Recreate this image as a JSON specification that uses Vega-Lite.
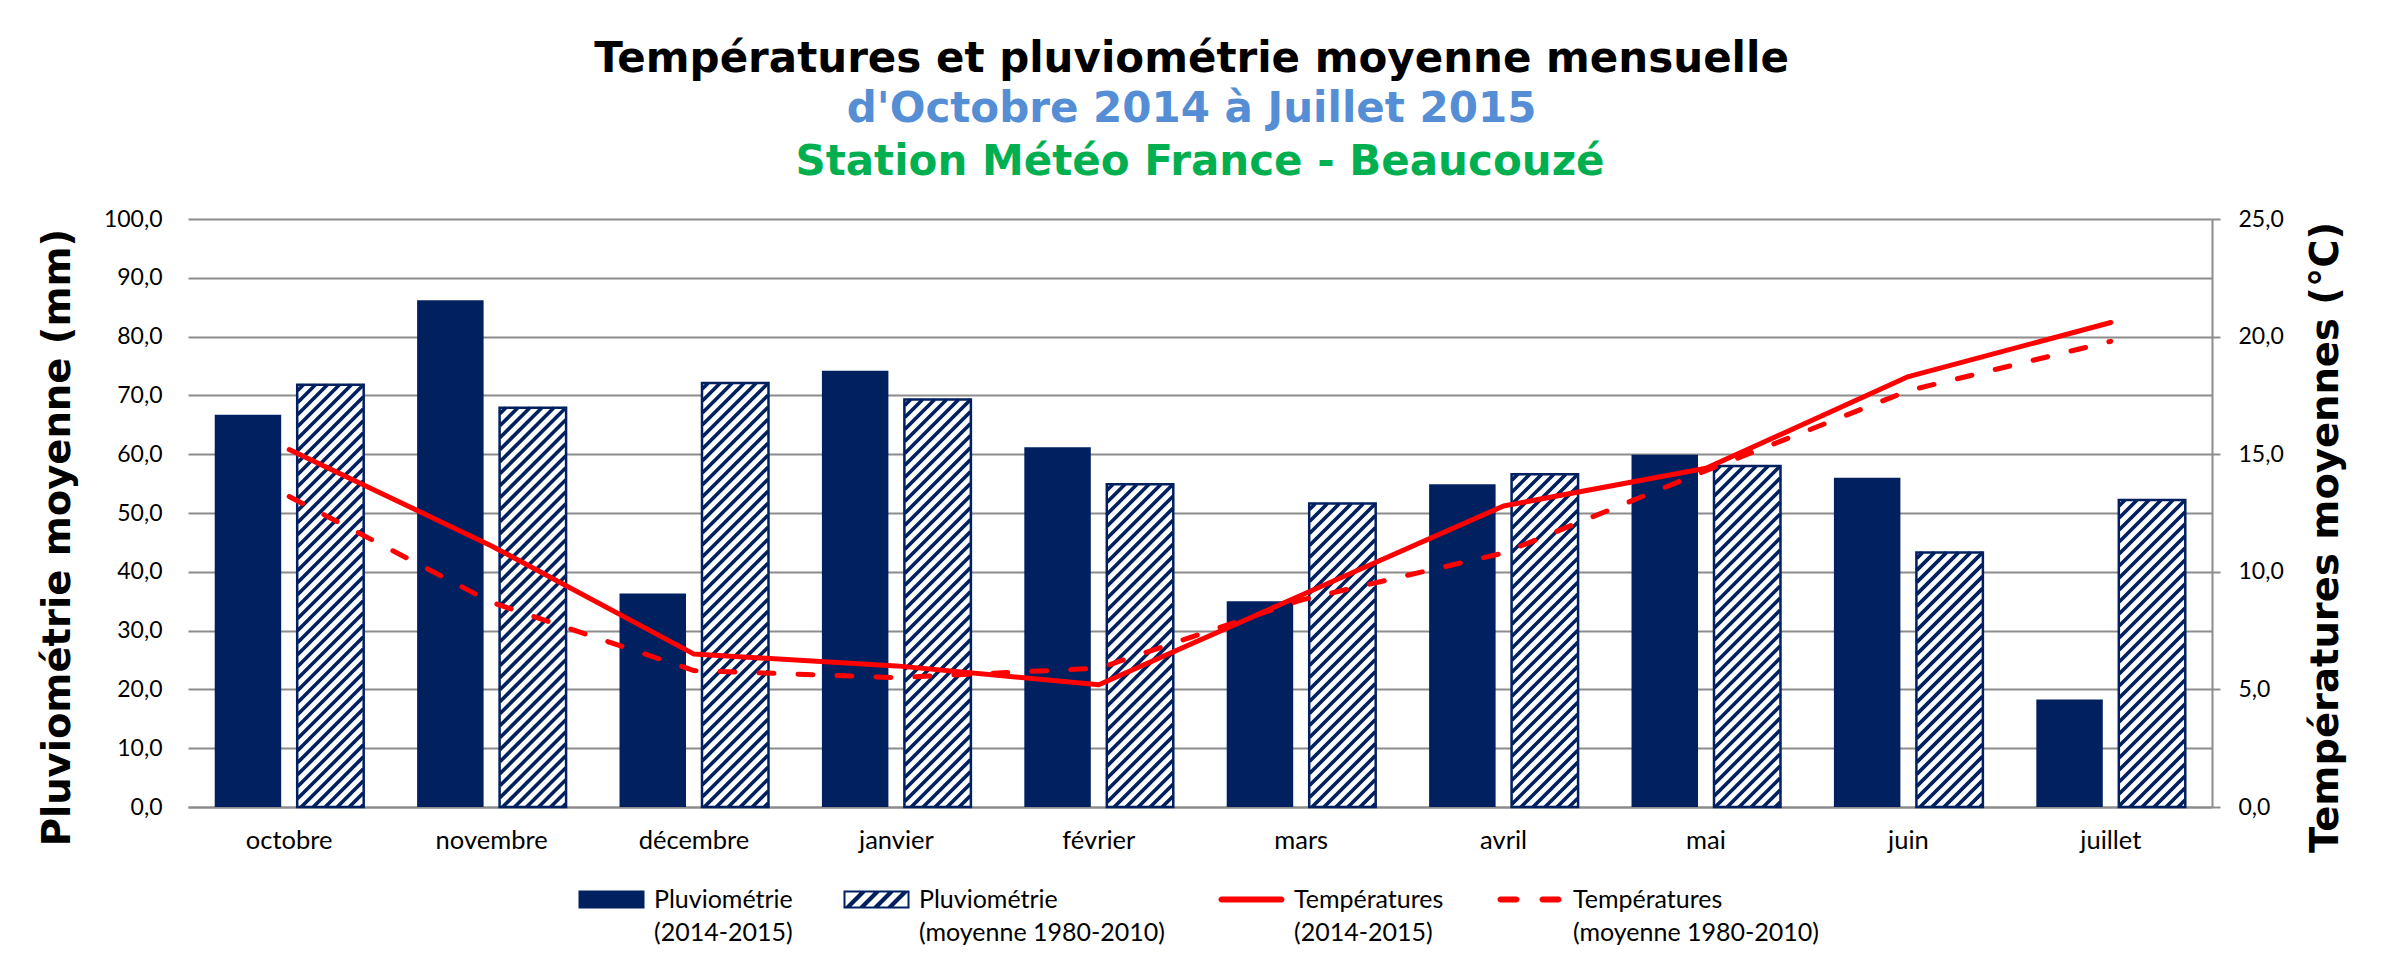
{
  "$schema": "https://vega.github.io/schema/vega-lite/v6.json",
  "background": "white",
  "autosize": {"type": "pad"},
  "padding": {"left": 38, "top": 38, "right": 10, "bottom": 10},
  "title": {
    "text": "Températures et pluviométrie moyenne mensuelle",
    "subtitle": "d'Octobre 2014 à Juillet 2015",
    "anchor": "middle",
    "font": "DejaVu Sans", "fontSize": 42, "fontWeight": "bold", "color": "#000000",
    "subtitleFont": "DejaVu Sans", "subtitleFontSize": 42, "subtitleFontWeight": "bold", "subtitleColor": "#558ED5",
    "subtitlePadding": 8, "offset": 10
  },
  "datasets": {
    "pluie": [
      {"mois": "octobre", "serie": "obs", "mm": 66.7},
      {"mois": "octobre", "serie": "norm", "mm": 71.8},
      {"mois": "novembre", "serie": "obs", "mm": 86.2},
      {"mois": "novembre", "serie": "norm", "mm": 67.9},
      {"mois": "décembre", "serie": "obs", "mm": 36.3},
      {"mois": "décembre", "serie": "norm", "mm": 72.1},
      {"mois": "janvier", "serie": "obs", "mm": 74.2},
      {"mois": "janvier", "serie": "norm", "mm": 69.3},
      {"mois": "février", "serie": "obs", "mm": 61.2},
      {"mois": "février", "serie": "norm", "mm": 54.9},
      {"mois": "mars", "serie": "obs", "mm": 35.0},
      {"mois": "mars", "serie": "norm", "mm": 51.6},
      {"mois": "avril", "serie": "obs", "mm": 54.9},
      {"mois": "avril", "serie": "norm", "mm": 56.6},
      {"mois": "mai", "serie": "obs", "mm": 59.9},
      {"mois": "mai", "serie": "norm", "mm": 58.0},
      {"mois": "juin", "serie": "obs", "mm": 56.0},
      {"mois": "juin", "serie": "norm", "mm": 43.3},
      {"mois": "juillet", "serie": "obs", "mm": 18.3},
      {"mois": "juillet", "serie": "norm", "mm": 52.2}
    ],
    "temp": [
      {"mois": "octobre", "serie": "obs", "t": 15.2},
      {"mois": "novembre", "serie": "obs", "t": 11.1},
      {"mois": "décembre", "serie": "obs", "t": 6.5},
      {"mois": "janvier", "serie": "obs", "t": 6.0},
      {"mois": "février", "serie": "obs", "t": 5.2},
      {"mois": "mars", "serie": "obs", "t": 9.0},
      {"mois": "avril", "serie": "obs", "t": 12.8},
      {"mois": "mai", "serie": "obs", "t": 14.4},
      {"mois": "juin", "serie": "obs", "t": 18.3},
      {"mois": "juillet", "serie": "obs", "t": 20.6},
      {"mois": "octobre", "serie": "norm", "t": 13.2},
      {"mois": "novembre", "serie": "norm", "t": 8.7},
      {"mois": "décembre", "serie": "norm", "t": 5.8},
      {"mois": "janvier", "serie": "norm", "t": 5.5},
      {"mois": "février", "serie": "norm", "t": 5.9},
      {"mois": "mars", "serie": "norm", "t": 8.8},
      {"mois": "avril", "serie": "norm", "t": 10.8},
      {"mois": "mai", "serie": "norm", "t": 14.3},
      {"mois": "juin", "serie": "norm", "t": 17.7},
      {"mois": "juillet", "serie": "norm", "t": 19.8}
    ],
    "leg": [
      {"k": "Pluviométrie|(2014-2015)"},
      {"k": "Pluviométrie|(moyenne 1980-2010)"},
      {"k": "Températures|(2014-2015)"},
      {"k": "Températures|(moyenne 1980-2010)"}
    ]
  },
  "vconcat": [
    {
      "width": 2024,
      "height": 588,
      "title": {
        "text": "Station Météo France - Beaucouzé",
        "anchor": "middle",
        "font": "DejaVu Sans", "fontSize": 42, "fontWeight": "bold", "color": "#00B050",
        "offset": 24
      },
      "encoding": {
        "x": {
          "field": "mois", "type": "nominal",
          "sort": ["octobre", "novembre", "décembre", "janvier", "février", "mars", "avril", "mai", "juin", "juillet"],
          "scale": {"type": "band", "domain": ["octobre", "novembre", "décembre", "janvier", "février", "mars", "avril", "mai", "juin", "juillet"], "paddingInner": 0.264, "paddingOuter": 0.132},
          "axis": {"orient": "bottom", "title": null, "labelAngle": 0, "labelFont": "Lato", "labelFontSize": 25.5, "labelColor": "#000000", "labelPadding": 21, "ticks": false, "domain": true, "domainColor": "#8C8C8C", "domainWidth": 2, "grid": false}
        }
      },
      "layer": [
        {
          "data": {"name": "pluie"},
          "encoding": {
            "y": {
              "field": "mm", "type": "quantitative",
              "scale": {"domain": [0, 100], "nice": false},
              "axis": {
                "orient": "left", "values": [0, 10, 20, 30, 40, 50, 60, 70, 80, 90, 100],
                "labelExpr": "replace(format(datum.value, '.1f'), '.', ',')",
                "grid": true, "gridColor": "#8C8C8C", "gridWidth": 2,
                "domain": false, "ticks": false, "labelPadding": 26,
                "labelFont": "Lato", "labelFontSize": 23, "labelColor": "#000000",
                "title": "Pluviométrie moyenne (mm)", "titleFont": "DejaVu Sans", "titleFontSize": 38.5, "titleFontWeight": "bold", "titleColor": "#000000",
                "titlePadding": 26, "titleY": 318
              }
            }
          },
          "layer": [
            {
              "transform": [{"filter": "datum.serie === 'obs'"}],
              "mark": {"type": "bar", "fill": "#002060"},
              "encoding": {"xOffset": {"field": "serie", "type": "nominal", "sort": ["obs", "norm"], "scale": {"domain": ["obs", "norm"], "paddingInner": 0.194, "paddingOuter": 0}}}
            },
            {
              "transform": [{"filter": "datum.serie === 'norm'"}],
              "mark": {"type": "bar", "fill": "#FFFFFF"},
              "encoding": {"xOffset": {"field": "serie", "type": "nominal", "sort": ["obs", "norm"], "scale": {"domain": ["obs", "norm"], "paddingInner": 0.194, "paddingOuter": 0}}}
            },
            {
              "transform": [{"filter": "datum.serie === 'norm'"}],
              "mark": {
                "type": "point", "size": 4, "filled": false, "stroke": "#002060", "strokeWidth": 3.6, "opacity": 1, "clip": true,
                "shape": "M-33,6L-27,0M-33,18L-15,0M-33,30L-3,0M-33,42L9,0M-33,54L21,0M-33,66L33,0M-33,78L33,12M-33,90L33,24M-33,102L33,36M-33,114L33,48M-33,126L33,60M-33,138L33,72M-33,150L33,84M-33,162L33,96M-33,174L33,108M-33,186L33,120M-33,198L33,132M-33,210L33,144M-33,222L33,156M-33,234L33,168M-33,246L33,180M-33,258L33,192M-33,270L33,204M-33,282L33,216M-33,294L33,228M-33,306L33,240M-33,318L33,252M-33,330L33,264M-33,342L33,276M-33,354L33,288M-33,366L33,300M-33,378L33,312M-33,390L33,324M-33,402L33,336M-33,414L33,348M-33,426L33,360M-33,438L33,372M-33,450L33,384M-33,462L33,396M-33,474L33,408M-33,486L33,420M-33,498L33,432"
              },
              "encoding": {"xOffset": {"field": "serie", "type": "nominal", "sort": ["obs", "norm"], "scale": {"domain": ["obs", "norm"], "paddingInner": 0.194, "paddingOuter": 0}}}
            },
            {
              "transform": [{"filter": "datum.serie === 'norm'"}],
              "mark": {"type": "bar", "fill": "#FFFFFF", "fillOpacity": 0, "stroke": "#002060", "strokeWidth": 2.5},
              "encoding": {"xOffset": {"field": "serie", "type": "nominal", "sort": ["obs", "norm"], "scale": {"domain": ["obs", "norm"], "paddingInner": 0.194, "paddingOuter": 0}}}
            },
            {
              "data": {"name": "leg"},
              "transform": [{"filter": "datum.k === 'Pluviométrie|(2014-2015)'"}],
              "mark": {"type": "point", "filled": true, "size": 4, "opacity": 1, "clip": true},
              "encoding": {
                "x": {"datum": "octobre"},
                "y": {"datum": -50},
                "fill": {
                  "field": "k", "type": "nominal",
                  "scale": {"domain": ["Pluviométrie|(2014-2015)"], "range": ["#002060"]},
                  "legend": {"orient": "none", "legendX": 378, "legendY": 668, "title": null, "labelExpr": "split(datum.label, '|')", "labelFont": "Lato", "labelFontSize": 25, "labelColor": "#000000", "labelLimit": 400, "labelOffset": 63, "symbolSize": 4, "symbolStrokeWidth": 0, "symbolOpacity": 1, "padding": 0}
                },
                "shape": {
                  "field": "k", "type": "nominal",
                  "scale": {"domain": ["Pluviométrie|(2014-2015)"], "range": ["M0,-9H66V9H0Z"]},
                  "legend": {"orient": "none", "legendX": 378, "legendY": 668, "title": null, "labelExpr": "split(datum.label, '|')", "labelFont": "Lato", "labelFontSize": 25, "labelColor": "#000000", "labelLimit": 400, "labelOffset": 63, "symbolSize": 4, "symbolStrokeWidth": 0, "symbolOpacity": 1, "padding": 0}
                }
              }
            },
            {
              "data": {"name": "leg"},
              "transform": [{"filter": "datum.k === 'Pluviométrie|(moyenne 1980-2010)'"}],
              "mark": {"type": "point", "filled": true, "size": 4, "opacity": 1, "clip": true},
              "encoding": {
                "x": {"datum": "octobre"},
                "y": {"datum": -50},
                "fill": {
                  "field": "k", "type": "nominal",
                  "scale": {"domain": ["Pluviométrie|(moyenne 1980-2010)"], "range": ["#002060"]},
                  "legend": {"orient": "none", "legendX": 643, "legendY": 668, "title": null, "labelExpr": "split(datum.label, '|')", "labelFont": "Lato", "labelFontSize": 25, "labelColor": "#000000", "labelLimit": 400, "labelOffset": 63, "symbolSize": 4, "symbolStrokeWidth": 0, "symbolOpacity": 1, "padding": 0}
                },
                "shape": {
                  "field": "k", "type": "nominal",
                  "scale": {"domain": ["Pluviométrie|(moyenne 1980-2010)"], "range": ["M0,-9H66V9H0ZM2,-7V7H64V-7ZM2,7L8,7L22,-7L16,-7ZM16,7L22,7L36,-7L30,-7ZM30,7L36,7L50,-7L44,-7ZM44,7L50,7L64,-7L58,-7Z"]},
                  "legend": {"orient": "none", "legendX": 643, "legendY": 668, "title": null, "labelExpr": "split(datum.label, '|')", "labelFont": "Lato", "labelFontSize": 25, "labelColor": "#000000", "labelLimit": 400, "labelOffset": 63, "symbolSize": 4, "symbolStrokeWidth": 0, "symbolOpacity": 1, "padding": 0}
                }
              }
            },
            {
              "data": {"name": "leg"},
              "transform": [{"filter": "datum.k === 'Températures|(2014-2015)'"}],
              "mark": {"type": "point", "filled": true, "size": 4, "opacity": 1, "clip": true},
              "encoding": {
                "x": {"datum": "octobre"},
                "y": {"datum": -50},
                "fill": {
                  "field": "k", "type": "nominal",
                  "scale": {"domain": ["Températures|(2014-2015)"], "range": ["#FF0000"]},
                  "legend": {"orient": "none", "legendX": 1018, "legendY": 668, "title": null, "labelExpr": "split(datum.label, '|')", "labelFont": "Lato", "labelFontSize": 25, "labelColor": "#000000", "labelLimit": 400, "labelOffset": 63, "symbolSize": 4, "symbolStrokeWidth": 0, "symbolOpacity": 1, "padding": 0}
                },
                "shape": {
                  "field": "k", "type": "nominal",
                  "scale": {"domain": ["Températures|(2014-2015)"], "range": ["M3,-3H63A3,3 0 0 1 63,3H3A3,3 0 0 1 3,-3Z"]},
                  "legend": {"orient": "none", "legendX": 1018, "legendY": 668, "title": null, "labelExpr": "split(datum.label, '|')", "labelFont": "Lato", "labelFontSize": 25, "labelColor": "#000000", "labelLimit": 400, "labelOffset": 63, "symbolSize": 4, "symbolStrokeWidth": 0, "symbolOpacity": 1, "padding": 0}
                }
              }
            },
            {
              "data": {"name": "leg"},
              "transform": [{"filter": "datum.k === 'Températures|(moyenne 1980-2010)'"}],
              "mark": {"type": "point", "filled": true, "size": 4, "opacity": 1, "clip": true},
              "encoding": {
                "x": {"datum": "octobre"},
                "y": {"datum": -50},
                "fill": {
                  "field": "k", "type": "nominal",
                  "scale": {"domain": ["Températures|(moyenne 1980-2010)"], "range": ["#FF0000"]},
                  "legend": {"orient": "none", "legendX": 1297, "legendY": 668, "title": null, "labelExpr": "split(datum.label, '|')", "labelFont": "Lato", "labelFontSize": 25, "labelColor": "#000000", "labelLimit": 400, "labelOffset": 63, "symbolSize": 4, "symbolStrokeWidth": 0, "symbolOpacity": 1, "padding": 0}
                },
                "shape": {
                  "field": "k", "type": "nominal",
                  "scale": {"domain": ["Températures|(moyenne 1980-2010)"], "range": ["M3,-3H19A3,3 0 0 1 19,3H3A3,3 0 0 1 3,-3ZM45,-3H61A3,3 0 0 1 61,3H45A3,3 0 0 1 45,-3Z"]},
                  "legend": {"orient": "none", "legendX": 1297, "legendY": 668, "title": null, "labelExpr": "split(datum.label, '|')", "labelFont": "Lato", "labelFontSize": 25, "labelColor": "#000000", "labelLimit": 400, "labelOffset": 63, "symbolSize": 4, "symbolStrokeWidth": 0, "symbolOpacity": 1, "padding": 0}
                }
              }
            }
          ],
          "resolve": {"scale": {"fill": "independent", "shape": "independent"}, "legend": {"fill": "independent", "shape": "independent"}}
        },
        {
          "data": {"name": "temp"},
          "encoding": {
            "y": {
              "field": "t", "type": "quantitative",
              "scale": {"domain": [0, 25], "nice": false},
              "axis": {
                "orient": "right", "values": [0, 5, 10, 15, 20, 25],
                "labelExpr": "replace(format(datum.value, '.1f'), '.', ',')",
                "grid": false, "domain": true, "domainColor": "#8C8C8C", "domainWidth": 2,
                "ticks": true, "tickSize": 8, "tickColor": "#8C8C8C", "tickWidth": 2,
                "labelPadding": 18, "labelFont": "Lato", "labelFontSize": 23, "labelColor": "#000000",
                "title": "Températures moyennes (°C)", "titleFont": "DejaVu Sans", "titleFontSize": 38.5, "titleFontWeight": "bold", "titleColor": "#000000",
                "titleAngle": -90, "titleBaseline": "top", "titlePadding": 24, "titleY": 318
              }
            },
            "order": {"value": null}
          },
          "layer": [
            {
              "transform": [{"filter": "datum.serie === 'obs'"}],
              "mark": {"type": "line", "stroke": "#FF0000", "strokeWidth": 5, "strokeJoin": "round", "strokeCap": "round"}
            },
            {
              "transform": [{"filter": "datum.serie === 'norm'"}],
              "mark": {"type": "line", "stroke": "#FF0000", "strokeWidth": 5, "strokeDash": [15, 24], "strokeCap": "round", "strokeJoin": "round"}
            }
          ]
        }
      ],
      "resolve": {"scale": {"y": "independent"}, "axis": {"y": "independent"}}
    }
  ],
  "config": {
    "view": {"stroke": null},
    "style": {"guide-label": {"lineHeight": 33}}
  }
}
